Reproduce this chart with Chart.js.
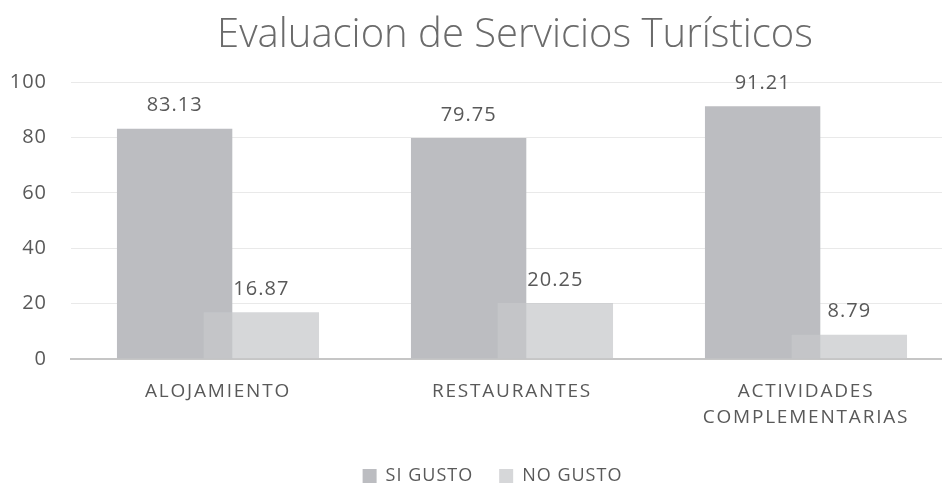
<!DOCTYPE html>
<html>
<head>
<meta charset="utf-8">
<script src="https://cdn.jsdelivr.net/npm/chart.js@4"></script>
<style>
  html, body { margin: 0; padding: 0; overflow: hidden; background: #fff; }
  #wrap { width: 954px; height: 483px; }
</style>
</head>
<body>
<div id="wrap"><canvas id="grafico" width="954" height="483"></canvas></div>
<script>
// Datos del grafico
const titulo = "Evaluacion de Servicios Turísticos";
const categorias = ["ALOJAMIENTO", "RESTAURANTES", ["ACTIVIDADES", "COMPLEMENTARIAS"]];
const siGusto = [83.13, 79.75, 91.21];
const noGusto = [16.87, 20.25, 8.79];
const ticksY = [0, 20, 40, 60, 80, 100];

const gris = "#595959";

// Titulo centrado sobre el area del grafico
const tituloPlugin = {
    id: "tituloPlugin",
    beforeDraw(chart) {
        // espaciado leve para ticks del eje Y y leyenda
        chart.ctx.letterSpacing = "1px";
    },
    afterDraw(chart) {
        const ctx = chart.ctx;
        const area = chart.chartArea;
        ctx.save();
        ctx.letterSpacing = "0px";
        ctx.font = '300 40px "Open Sans"';
        ctx.fillStyle = "#6b6b6b";
        ctx.textAlign = "center";
        ctx.textBaseline = "alphabetic";
        ctx.fillText(titulo, (area.left + area.right) / 2 + 3, 47);
        ctx.restore();
    }
};

// La serie NO GUSTO se dibuja encima (como en Excel) y luego las etiquetas
const barrasYEtiquetas = {
    id: "barrasYEtiquetas",
    beforeDatasetDraw(chart, args) {
        if (args.index === 1) return false;
    },
    afterDatasetsDraw(chart) {
        const ctx = chart.ctx;
        chart.getDatasetMeta(1).controller.draw();
        ctx.save();
        ctx.letterSpacing = "1px";
        ctx.font = '20px "Open Sans"';
        ctx.fillStyle = gris;
        ctx.textAlign = "center";
        ctx.textBaseline = "middle";
        chart.data.datasets.forEach((ds, i) => {
            chart.getDatasetMeta(i).data.forEach((bar, j) => {
                ctx.fillText(ds.data[j].toFixed(2), bar.x, bar.y - 23);
            });
        });
        ctx.restore();
        // espaciado de letras para las categorias del eje X (dibujadas despues)
        ctx.letterSpacing = "1.8px";
    }
};

// Ajuste de posicion de la leyenda
const moverLeyenda = {
    id: "moverLeyenda",
    afterLayout(chart) {
        chart.legend.left += 8;
        chart.legend.right += 8;
        chart.legend.top += 12;
        chart.legend.bottom += 12;
    }
};

const config = {
    type: "bar",
    data: {
        labels: categorias,
        datasets: [
            {
                label: "SI GUSTO",
                data: siGusto,
                backgroundColor: "rgb(188, 189, 193)",
                borderWidth: 0
            },
            {
                label: "NO GUSTO",
                data: noGusto,
                backgroundColor: "rgba(199, 200, 203, 0.73)",
                borderWidth: 0
            }
        ]
    },
    options: {
        responsive: false,
        animation: false,
        layout: {
            padding: { top: 82, left: 0, right: 1, bottom: 0 }
        },
        datasets: {
            bar: {
                categoryPercentage: 0.59,
                barPercentage: 1.33
            }
        },
        plugins: {
            title: { display: false },
            tooltip: { enabled: false },
            legend: {
                position: "bottom",
                labels: {
                    boxWidth: 14,
                    boxHeight: 14,
                    padding: 26,
                    color: gris,
                    font: { family: "Open Sans", size: 18 }
                }
            }
        },
        scales: {
            x: {
                grid: { display: false, drawTicks: false },
                border: { color: "#c6c6c6", width: 2 },
                ticks: {
                    z: 1,
                    color: gris,
                    padding: 19,
                    font: { family: "Open Sans", size: 19, lineHeight: 1.4 },
                    maxRotation: 0
                },
                afterFit(scale) { scale.height = 70; }
            },
            y: {
                min: ticksY[0],
                max: ticksY[ticksY.length - 1],
                afterBuildTicks(scale) {
                    scale.ticks = ticksY.map(v => ({ value: v }));
                },
                grid: { color: "#e9e9e9", lineWidth: 1, drawTicks: false },
                border: { display: false },
                ticks: {
                    color: gris,
                    padding: 24,
                    font: { family: "Open Sans", size: 20 }
                },
                afterFit(scale) { scale.width = 71; }
            }
        }
    },
    plugins: [tituloPlugin, barrasYEtiquetas, moverLeyenda]
};

const grafico = new Chart(document.getElementById("grafico"), config);
</script>
</body>
</html>
